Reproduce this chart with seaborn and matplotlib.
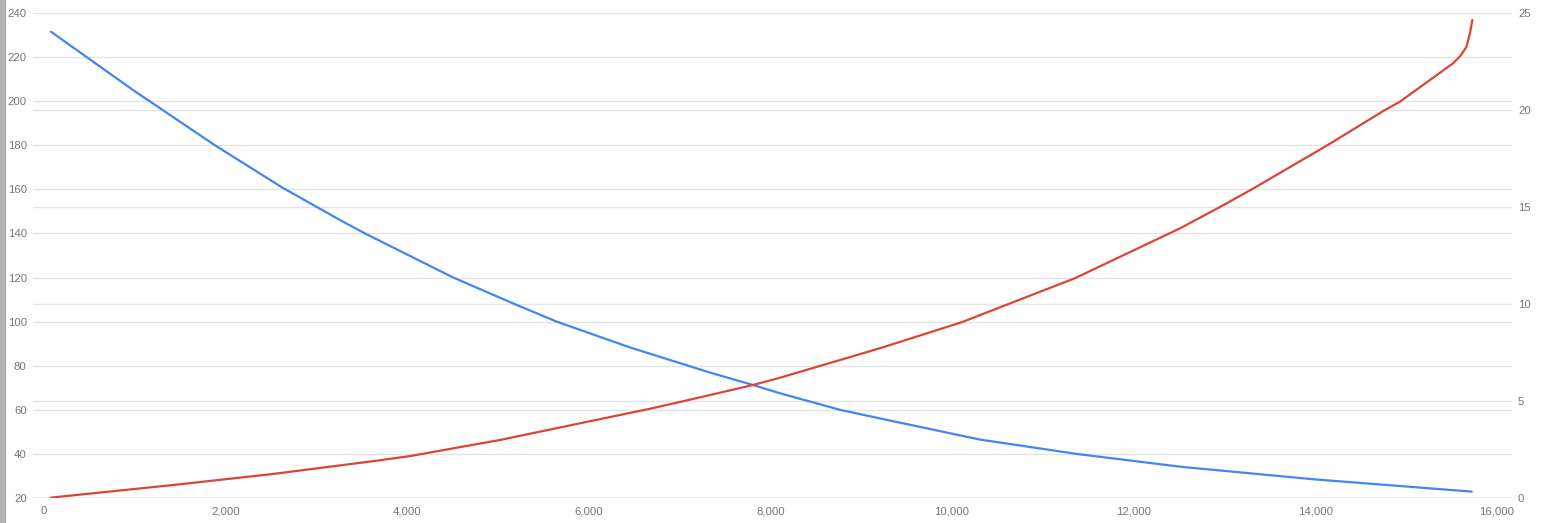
import matplotlib
matplotlib.use("Agg")
import matplotlib.pyplot as plt
import matplotlib.transforms as mtransforms
from matplotlib.patches import Rectangle
from matplotlib.ticker import FuncFormatter
import seaborn as sns
import pandas as pd

# Werte
blue_x = [77, 1000, 1883, 2617, 3259, 3535, 4507, 5187, 5646, 6453, 7095, 7334, 7804,
          8105, 8766, 9206, 10307, 11372, 12510, 13978, 15722]
blue_y = [231.5, 204.5, 180.0, 161.0, 146.1, 140.0, 120.0, 107.9, 100.0, 88.3, 80.0, 76.9, 71.3,
          67.5, 60.0, 56.1, 46.5, 40.0, 34.2, 28.5, 22.9]

red_x = [77, 1424, 2525, 3626, 4030, 5021, 5902, 6673, 7004, 7804, 8105, 9206, 10106,
         11353, 12510, 12950, 13300, 14125, 14767, 14932, 15518, 15600, 15665, 15703, 15729]
red_y = [0.02, 0.67, 1.24, 1.9, 2.16, 2.99, 3.85, 4.6, 4.95, 5.82, 6.2, 7.72, 9.06,
         11.33, 13.9, 15.0, 15.91, 18.16, 20.0, 20.43, 22.41, 22.8, 23.26, 23.95, 24.64]

left_ticks = [20, 40, 60, 80, 100, 120, 140, 160, 180, 200, 220, 240]
right_ticks = [0, 5, 10, 15, 20, 25]
x_ticks = [0, 2000, 4000, 6000, 8000, 10000, 12000, 14000, 16000]

blue_df = pd.DataFrame({"x": blue_x, "y": blue_y})
red_df = pd.DataFrame({"x": red_x, "y": red_y})

sns.set_style("white")
plt.rcParams["font.family"] = ["Liberation Sans", "DejaVu Sans"]

W, H = 1558, 523
fig = plt.figure(figsize=(W / 100, H / 100), dpi=100)
ax = fig.add_axes([33 / W, 25 / H, 1479 / W, 485 / H])
ax2 = ax.twinx()

grid_col = "#e4e4e4"
label_col = "#757575"

# Gitterlinien links
for v in left_ticks[1:]:
    ax.axhline(v, color=grid_col, lw=1, zorder=0.5)
ax.axhline(20, color="#9a9a9a", lw=1, zorder=0.6)

# Gitterlinien rechts, im unteren Achsensystem gezeichnet
trans = mtransforms.blended_transform_factory(ax.transAxes, ax2.transData)
for v in right_ticks[1:-1]:
    ax.plot([0, 1], [v, v], transform=trans, color=grid_col, lw=1, zorder=0.5)

sns.lineplot(data=blue_df, x="x", y="y", ax=ax, color="#4285F4", lw=1.6, zorder=2)
sns.lineplot(data=red_df, x="x", y="y", ax=ax2, color="#DB4437", lw=1.6, zorder=2)

ax.set_xlim(-121, 16166)
ax.set_ylim(20, 240)
ax2.set_ylim(0, 25)

ax.set_xticks(x_ticks)
ax.xaxis.set_major_formatter(FuncFormatter(lambda v, p: f"{int(v):,}"))
ax.set_yticks(left_ticks)
ax2.set_yticks(right_ticks)

ax.set_xlabel("")
ax.set_ylabel("")
ax2.set_xlabel("")
ax2.set_ylabel("")

ax.tick_params(axis="x", length=0, pad=6, labelsize=8.2, labelcolor=label_col)
ax.tick_params(axis="y", length=0, pad=4.5, labelsize=8.2, labelcolor=label_col)
ax2.tick_params(axis="y", length=0, pad=4.3, labelsize=8.2, labelcolor=label_col)

for a in (ax, ax2):
    for s in a.spines.values():
        s.set_visible(False)
    a.grid(False)

# grauer Streifen am linken Rand
fig.patches.append(Rectangle((0, 0), 5 / W, 1, transform=fig.transFigure,
                             color="#b3b3b3", zorder=0))

fig.savefig("out.png", dpi=100)
